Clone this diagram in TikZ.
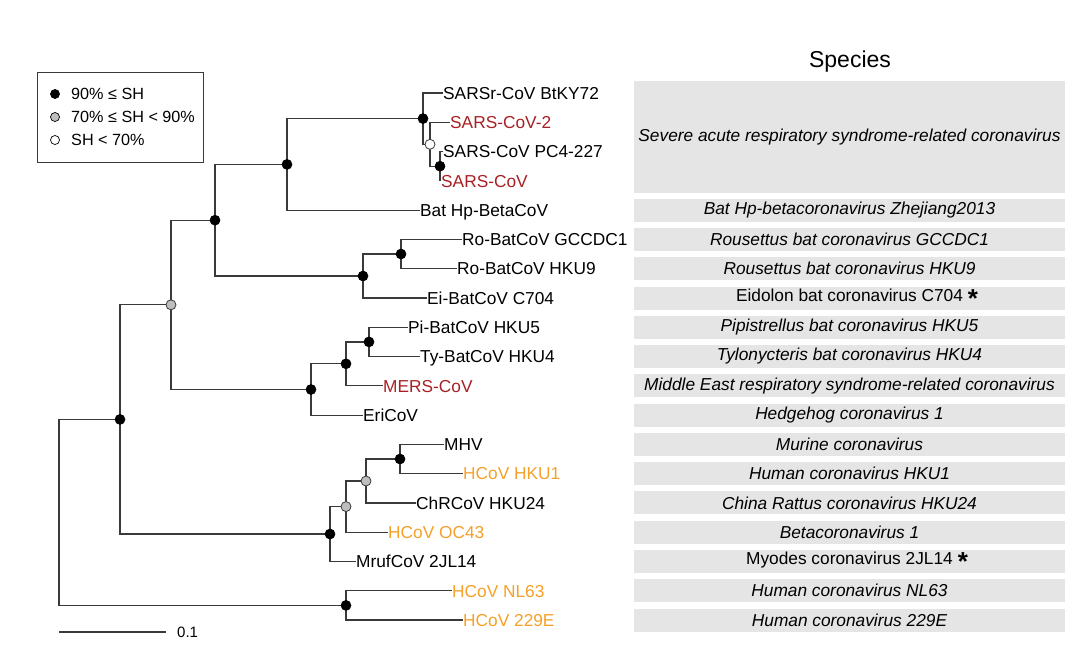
\documentclass[tikz,border=0pt]{standalone}
\usepackage{fontspec}
\setmainfont{Liberation Sans}
\definecolor{sarsred}{RGB}{168,32,36}
\definecolor{hcovorange}{RGB}{245,160,40}
\definecolor{boxgray}{RGB}{229,229,229}
\definecolor{edgecol}{RGB}{58,58,58}
\definecolor{nodegray}{RGB}{190,190,190}
\begin{document}
\begin{tikzpicture}[x=1pt,y=-1pt,
  edgeline/.style={draw=edgecol, line width=1.2pt},
  tip/.style={anchor=west, inner sep=0pt, text height=12.4pt, text depth=0pt, font=\fontsize{17.3}{20}\selectfont},
  bnode/.style={circle, fill=black, draw=black, line width=0.6pt, minimum size=10pt, inner sep=0pt},
  gnode/.style={circle, fill=nodegray, draw=edgecol, line width=0.8pt, minimum size=10pt, inner sep=0pt},
  wnode/.style={circle, fill=white, draw=edgecol, line width=0.8pt, minimum size=10pt, inner sep=0pt},
  spbox/.style={fill=boxgray, draw=none, minimum width=431pt, minimum height=23pt, inner sep=0pt, font=\fontsize{17.3}{20}\selectfont\itshape},
  uprbox/.style={spbox, font=\fontsize{17.3}{20}\selectfont\upshape},
  legtext/.style={anchor=west, inner sep=0pt, font=\fontsize{16.2}{18}\selectfont},
  legdot/.style={circle, minimum size=9pt, inner sep=0pt, line width=0.7pt, draw=black},
  red/.style={text=sarsred},
  orng/.style={text=hcovorange}
]
\useasboundingbox (0,0) rectangle (1080,654);

% species title
\node[font=\fontsize{23}{26}\selectfont] (title) at (850,62) {Species};

% species boxes
\node[spbox, minimum height=112pt] (s1) at (849.5,137) {Severe acute respiratory syndrome-related coronavirus};
\node[spbox] (s5) at (849.5,210.1) {Bat Hp-betacoronavirus Zhejiang2013};
\node[spbox] (s6) at (849.5,239.4) {Rousettus bat coronavirus GCCDC1};
\node[spbox] (s7) at (849.5,268.7) {Rousettus bat coronavirus HKU9};
\node[uprbox] (s8) at (849.5,298) {Eidolon bat coronavirus C704\rlap{\hspace{5pt}\raisebox{-6pt}{\fontsize{26}{26}\selectfont\bfseries *}}};
\node[spbox] (s9) at (849.5,327.2) {Pipistrellus bat coronavirus HKU5};
\node[spbox] (s10) at (849.5,356.5) {Tylonycteris bat coronavirus HKU4};
\node[spbox] (s11) at (849.5,385.8) {Middle East respiratory syndrome-related coronavirus};
\node[spbox] (s12) at (849.5,415.1) {Hedgehog coronavirus 1};
\node[spbox] (s13) at (849.5,444.4) {Murine coronavirus};
\node[spbox] (s14) at (849.5,473.6) {Human coronavirus HKU1};
\node[spbox] (s15) at (849.5,502.9) {China Rattus coronavirus HKU24};
\node[spbox] (s16) at (849.5,532.2) {Betacoronavirus 1};
\node[uprbox] (s17) at (849.5,561.5) {Myodes coronavirus 2JL14\rlap{\hspace{5pt}\raisebox{-6pt}{\fontsize{26}{26}\selectfont\bfseries *}}};
\node[spbox] (s18) at (849.5,590.8) {Human coronavirus NL63};
\node[spbox] (s19) at (849.5,620) {Human coronavirus 229E};

% tip labels
\node[tip] (t1) at (443,93) {SARSr-CoV BtKY72};
\node[tip, red] (t2) at (450,122.3) {SARS-CoV-2};
\node[tip] (t3) at (443,151.6) {SARS-CoV PC4-227};
\node[tip, red] (t4) at (441,180.8) {SARS-CoV};
\node[tip] (t5) at (420,210.1) {Bat Hp-BetaCoV};
\node[tip] (t6) at (462,239.4) {Ro-BatCoV GCCDC1};
\node[tip] (t7) at (457,268.7) {Ro-BatCoV HKU9};
\node[tip] (t8) at (427,298) {Ei-BatCoV C704};
\node[tip] (t9) at (408,327.2) {Pi-BatCoV HKU5};
\node[tip] (t10) at (420,356.5) {Ty-BatCoV HKU4};
\node[tip, red] (t11) at (383,385.8) {MERS-CoV};
\node[tip] (t12) at (363,415.1) {EriCoV};
\node[tip] (t13) at (444,444.4) {MHV};
\node[tip, orng] (t14) at (463,473.6) {HCoV HKU1};
\node[tip] (t15) at (416,502.9) {ChRCoV HKU24};
\node[tip, orng] (t16) at (388,532.2) {HCoV OC43};
\node[tip] (t17) at (356,561.5) {MrufCoV 2JL14};
\node[tip, orng] (t18) at (452,590.8) {HCoV NL63};
\node[tip, orng] (t19) at (463,620) {HCoV 229E};

% internal node positions
\coordinate (nRoot) at (59,512.4);
\coordinate (nK) at (120,419.4);
\coordinate (nH) at (171,304.8);
\coordinate (nE) at (215,220.2);
\coordinate (nA) at (287,164.4);
\coordinate (nB) at (423,118.6);
\coordinate (nC) at (430,144.3);
\coordinate (nD) at (440,166.2);
\coordinate (nF) at (363,276);
\coordinate (nG) at (401,254);
\coordinate (nI) at (311,389.5);
\coordinate (nJ) at (346,363.8);
\coordinate (nP) at (369,341.9);
\coordinate (nL) at (330,534);
\coordinate (nM) at (346,506.6);
\coordinate (nQ) at (366,481);
\coordinate (nR) at (400,459);
\coordinate (nN) at (346,605.4);

% edges
\draw[edgeline] (nRoot) |- (nK);
\draw[edgeline] (nRoot) |- (nN);
\draw[edgeline] (nK) |- (nH);
\draw[edgeline] (nK) |- (nL);
\draw[edgeline] (nH) |- (nE);
\draw[edgeline] (nH) |- (nI);
\draw[edgeline] (nE) |- (nA);
\draw[edgeline] (nE) |- (nF);
\draw[edgeline] (nA) |- (nB);
\draw[edgeline] (nA) |- (t5.west);
\draw[edgeline] (nB) |- (t1.west);
\draw[edgeline] (nB) |- (nC);
\draw[edgeline] (nC) |- (t2.west);
\draw[edgeline] (nC) |- (nD);
\draw[edgeline] (nD) |- (t3.west);
\draw[edgeline] (nD) |- (t4.west);
\draw[edgeline] (nF) |- (nG);
\draw[edgeline] (nF) |- (t8.west);
\draw[edgeline] (nG) |- (t6.west);
\draw[edgeline] (nG) |- (t7.west);
\draw[edgeline] (nI) |- (nJ);
\draw[edgeline] (nI) |- (t12.west);
\draw[edgeline] (nJ) |- (nP);
\draw[edgeline] (nJ) |- (t11.west);
\draw[edgeline] (nP) |- (t9.west);
\draw[edgeline] (nP) |- (t10.west);
\draw[edgeline] (nL) |- (nM);
\draw[edgeline] (nL) |- (t17.west);
\draw[edgeline] (nM) |- (nQ);
\draw[edgeline] (nM) |- (t16.west);
\draw[edgeline] (nQ) |- (nR);
\draw[edgeline] (nQ) |- (t15.west);
\draw[edgeline] (nR) |- (t13.west);
\draw[edgeline] (nR) |- (t14.west);
\draw[edgeline] (nN) |- (t18.west);
\draw[edgeline] (nN) |- (t19.west);

% support markers
\node[bnode] (dK) at (nK) {};
\node[gnode] (dH) at (nH) {};
\node[bnode] (dE) at (nE) {};
\node[bnode] (dA) at (nA) {};
\node[bnode] (dB) at (nB) {};
\node[wnode] (dC) at (nC) {};
\node[bnode] (dD) at (nD) {};
\node[bnode] (dF) at (nF) {};
\node[bnode] (dG) at (nG) {};
\node[bnode] (dI) at (nI) {};
\node[bnode] (dJ) at (nJ) {};
\node[bnode] (dP) at (nP) {};
\node[bnode] (dL) at (nL) {};
\node[gnode] (dM) at (nM) {};
\node[gnode] (dQ) at (nQ) {};
\node[bnode] (dR) at (nR) {};
\node[bnode] (dN) at (nN) {};

% scale bar
\coordinate (sb1) at (59,632);
\coordinate (sb2) at (166,632);
\draw[edgeline] (sb1) -- (sb2);
\node[anchor=west, inner sep=0pt, font=\fontsize{15}{17}\selectfont] (sblabel) at (177,632) {0.1};

% legend
\node[draw=edgecol, line width=1pt, fill=white, minimum width=166pt, minimum height=90pt, anchor=north west, inner sep=0pt] (legend) at (37,72) {};
\node[legdot, fill=black] (l1) at (55,94) {};
\node[legdot, fill=nodegray] (l2) at (55,117) {};
\node[legdot, fill=white] (l3) at (55,140) {};
\node[legtext] (lt1) at (71,94) {90\% ≤ SH};
\node[legtext] (lt2) at (71,117) {70\% ≤ SH < 90\%};
\node[legtext] (lt3) at (71,140) {SH < 70\%};
\end{tikzpicture}
\end{document}
